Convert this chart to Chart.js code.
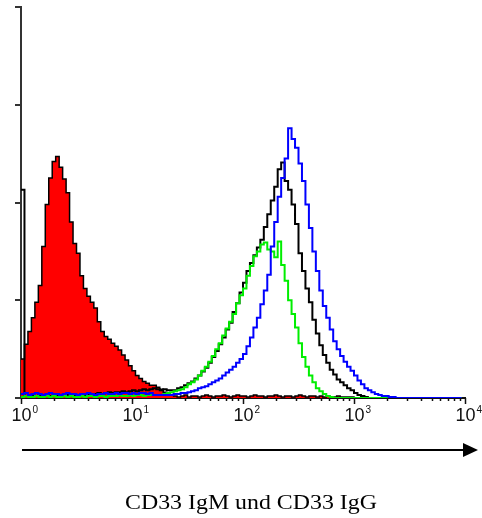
<!DOCTYPE html>
<html><head><meta charset="utf-8">
<script src="https://cdn.jsdelivr.net/npm/chart.js@4/dist/chart.umd.min.js"></script>
<style>html,body{margin:0;padding:0;background:#fff;overflow:hidden}canvas{display:block}</style>
</head><body>
<canvas id="c" width="482" height="518"></canvas>
<script>
// ---- data (32 channels per decade, log10 scale from 10^0 to 10^4) ----
const binsPerDecade = 32;
const decades = [0, 1, 2, 3, 4];
const decadeExponents = ['0', '1', '2', '3', '4'];
const yTickValues = [0, 1, 2, 3, 4];
const axisTitle = 'CD33 IgM und CD33 IgG';

const redControl = [
  0.40,0.55,0.68,0.82,0.98,1.15,1.55,1.98,2.25,2.42,2.47,2.36,2.24,2.10,1.80,1.58,
  1.48,1.25,1.12,1.04,0.98,0.92,0.78,0.68,0.63,0.60,0.56,0.53,0.49,0.44,0.39,0.33,
  0.28,0.23,0.20,0.17,0.15,0.13,0.13,0.11,0.09,0.06,0.04,0.03,0.02,0.01,0.02,0.03,
  0.01,0.02,0.02,0.01,0.02,0.03,0.02,0.01,0.02,0.02,0.03,0.02,0.01,0.02,0.03,0.02,
  0.02,0.01,0.02,0.03,0.02,0.02,0.01,0.02,0.02,0.03,0.02,0.01,0.02,0.02,0.01,0.02,
  0.03,0.02,0.01,0.02,0.02,0.01,0.02,0.01,0.02,0.01,0.01,0.02,0.01,0.01,0.01,0.01,
  0,0,0,0,0,0,0,0,0,0,0,0,0,0,0,0,
  0,0,0,0,0,0,0,0,0,0,0,0,0,0,0,0
];
const blackSeries = [
  2.13,0.02,0.03,0.02,0.02,0.03,0.02,0.03,0.02,0.02,0.03,0.03,0.02,0.03,0.03,0.02,
  0.03,0.04,0.03,0.03,0.04,0.04,0.05,0.04,0.05,0.06,0.05,0.06,0.06,0.07,0.06,0.07,
  0.08,0.07,0.08,0.09,0.08,0.09,0.10,0.09,0.08,0.09,0.08,0.08,0.08,0.10,0.11,0.13,
  0.15,0.17,0.20,0.23,0.27,0.31,0.36,0.42,0.48,0.55,0.62,0.70,0.77,0.88,0.97,1.08,
  1.18,1.30,1.38,1.46,1.54,1.62,1.75,1.88,2.02,2.16,2.34,2.41,2.22,2.13,1.98,1.78,
  1.48,1.30,1.12,0.98,0.80,0.66,0.54,0.44,0.36,0.29,0.24,0.19,0.16,0.13,0.10,0.08,
  0.05,0.03,0.02,0.01,0,0,0,0,0,0,0,0,0,0,0,0,
  0,0,0,0,0,0,0,0,0,0,0,0,0,0,0,0
];
const greenSeries = [
  0.01,0.02,0.01,0.01,0.02,0.01,0.01,0.02,0.01,0.02,0.01,0.01,0.02,0.01,0.02,0.01,
  0.01,0.02,0.01,0.02,0.02,0.01,0.02,0.02,0.01,0.02,0.02,0.02,0.03,0.02,0.02,0.03,
  0.02,0.03,0.03,0.02,0.03,0.03,0.03,0.03,0.03,0.04,0.05,0.06,0.07,0.08,0.09,0.11,
  0.14,0.16,0.19,0.23,0.28,0.32,0.37,0.43,0.50,0.56,0.64,0.71,0.78,0.86,0.97,1.05,
  1.12,1.25,1.35,1.45,1.50,1.57,1.59,1.52,1.50,1.44,1.60,1.36,1.20,1.00,0.86,0.72,
  0.56,0.42,0.32,0.23,0.16,0.10,0.07,0.04,0.02,0.01,0,0,0,0,0,0,
  0,0,0,0,0,0,0,0,0,0,0,0,0,0,0,0,
  0,0,0,0,0,0,0,0,0,0,0,0,0,0,0,0
];
const blueSeries = [
  0.04,0.05,0.03,0.04,0.05,0.04,0.03,0.04,0.05,0.04,0.04,0.03,0.04,0.05,0.04,0.04,
  0.03,0.04,0.04,0.05,0.04,0.03,0.04,0.04,0.05,0.04,0.04,0.05,0.04,0.05,0.05,0.04,
  0.05,0.04,0.05,0.05,0.04,0.05,0.03,0.03,0.03,0.03,0.03,0.03,0.04,0.04,0.05,0.05,
  0.06,0.07,0.08,0.10,0.11,0.12,0.14,0.16,0.18,0.20,0.23,0.26,0.29,0.32,0.36,0.40,
  0.45,0.53,0.62,0.72,0.82,0.96,1.10,1.26,1.55,1.80,2.06,2.25,2.45,2.76,2.65,2.56,
  2.40,2.22,1.98,1.74,1.50,1.30,1.10,0.94,0.82,0.70,0.58,0.50,0.43,0.37,0.32,0.28,
  0.23,0.18,0.14,0.10,0.08,0.06,0.04,0.03,0.02,0.02,0.01,0.01,0,0,0,0,
  0,0,0,0,0,0,0,0,0,0,0,0,0,0,0,0
];

// ---- build datasets ----
const toPoints = arr => arr.map((v, i) => ({ x: i / binsPerDecade, y: v }));
const lineDs = (arr, color, extra) => Object.assign({
  data: toPoints(arr), borderColor: color, borderWidth: 2, pointRadius: 0,
  stepped: 'before', fill: false, tension: 0
}, extra || {});

const axisPlugin = {
  id: 'facsAxes',
  afterDraw(chart) {
    const ctx = chart.ctx, xs = chart.scales.x, ys = chart.scales.y, ca = chart.chartArea;
    ctx.save();
    // y ticks
    ctx.strokeStyle = '#333'; ctx.lineWidth = 2;
    yTickValues.forEach(v => {
      const py = Math.round(ys.getPixelForValue(v));
      ctx.beginPath(); ctx.moveTo(ca.left - 6, py); ctx.lineTo(ca.left, py); ctx.stroke();
    });
    // x ticks (log minor ticks)
    ctx.strokeStyle = '#111'; ctx.lineWidth = 1.5;
    decades.forEach(d => {
      const ks = d < decades[decades.length - 1] ? [1,2,3,4,5,6,7,8,9] : [1];
      ks.forEach(k => {
        const px = Math.round(xs.getPixelForValue(d + Math.log10(k))) + 0.5;
        const len = k === 1 ? 6 : 3;
        ctx.beginPath(); ctx.moveTo(px, ca.bottom); ctx.lineTo(px, ca.bottom + len); ctx.stroke();
      });
    });
    // tick labels 10^n
    ctx.fillStyle = '#111';
    decades.forEach((d, i) => {
      const px = xs.getPixelForValue(d);
      ctx.font = '18px "Liberation Sans", Arial, sans-serif';
      ctx.textBaseline = 'alphabetic'; ctx.textAlign = 'center';
      const w = ctx.measureText('10').width;
      ctx.fillText('10', px + 0.5, ca.bottom + 23);
      ctx.font = '10px "Liberation Sans", Arial, sans-serif';
      ctx.textAlign = 'left';
      ctx.fillText(decadeExponents[i], px + w / 2 + 1.5, ca.bottom + 15);
    });
    // arrow
    const ay = ca.bottom + 52;
    ctx.strokeStyle = '#000'; ctx.lineWidth = 2;
    ctx.beginPath(); ctx.moveTo(ca.left + 1, ay); ctx.lineTo(ca.right + 2, ay); ctx.stroke();
    ctx.fillStyle = '#000';
    ctx.beginPath(); ctx.moveTo(ca.right - 2, ay - 7); ctx.lineTo(ca.right + 13, ay); ctx.lineTo(ca.right - 2, ay + 7); ctx.closePath(); ctx.fill();
    // title
    ctx.font = '20px "Liberation Serif", "Times New Roman", serif';
    ctx.textAlign = 'center'; ctx.textBaseline = 'alphabetic';
    const tw = ctx.measureText(axisTitle).width;
    const sx = 252 / tw;
    ctx.translate(251, ca.bottom + 111);
    ctx.scale(sx, 1);
    ctx.fillText(axisTitle, 0, 0);
    ctx.restore();
  }
};

new Chart(document.getElementById('c'), {
  type: 'line',
  data: {
    datasets: [
      lineDs(blueSeries, '#0000ff'),
      lineDs(greenSeries, '#00ee00'),
      lineDs(blackSeries, '#000000'),
      lineDs(redControl, '#000000', { fill: 'origin', backgroundColor: '#ff0000', borderWidth: 1.5 })
    ]
  },
  options: {
    responsive: false, animation: false, devicePixelRatio: 1,
    layout: { padding: { left: 21, right: 17, top: 7, bottom: 120 } },
    plugins: { legend: { display: false }, tooltip: { enabled: false }, title: { display: false } },
    scales: {
      x: {
        type: 'linear', min: 0, max: 4,
        grid: { display: false, drawTicks: false },
        ticks: { display: false },
        border: { display: true, color: '#111', width: 2 },
        afterFit: s => { s.height = 0; }
      },
      y: {
        type: 'linear', min: 0, max: 4,
        grid: { display: false, drawTicks: false },
        ticks: { display: false },
        border: { display: true, color: '#333', width: 2 },
        afterFit: s => { s.width = 0; }
      }
    }
  },
  plugins: [axisPlugin]
});
</script>
</body></html>
